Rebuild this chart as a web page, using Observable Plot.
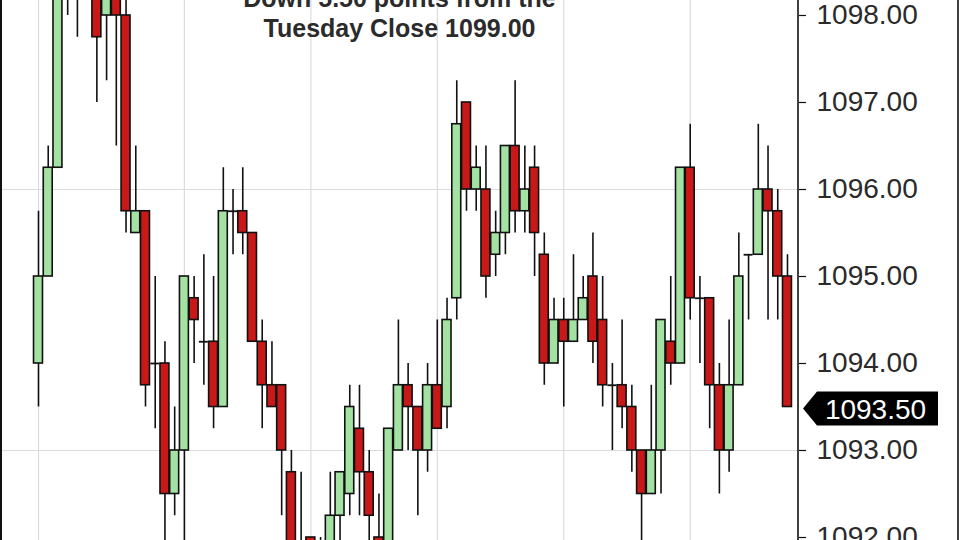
<!DOCTYPE html>
<html>
<head>
<meta charset="utf-8">
<script src="https://cdn.jsdelivr.net/npm/d3@7"></script>
<script src="https://cdn.jsdelivr.net/npm/@observablehq/plot@0.6"></script>
<style>
  html, body { margin: 0; padding: 0; background: #fff; overflow: hidden; }
  #chart svg { display: block; }
</style>
</head>
<body>
<div id="chart"></div>
<script>
// ---- data (ES futures, 2-min bars) ----
const opens  = [1094.00,1095.00,1096.25,1098.50,1098.75,1099.00,1098.75,1098.00,1098.50,1098.00,
                1095.50,1095.75,1094.00,1094.00,1092.50,1093.00,1094.75,1094.25,1094.25,1093.50,
                1095.75,1095.75,1095.50,1094.25,1093.75,1093.75,1092.75,1091.75,1092.00,1091.50,
                1091.75,1092.25,1092.50,1093.25,1092.75,1092.00,1091.75,1093.00,1093.75,1093.50,
                1093.00,1093.75,1093.50,1094.75,1097.00,1096.00,1096.00,1095.25,1095.50,1096.50,
                1095.75,1096.25,1095.25,1094.00,1094.50,1094.25,1094.50,1095.00,1094.50,1093.75,
                1093.75,1093.50,1093.00,1092.50,1093.00,1094.25,1094.00,1096.25,1094.75,1094.75,
                1093.75,1093.00,1093.75,1095.25,1095.25,1096.00,1095.75,1095.00];
const highs  = [1095.75,1096.50,1098.75,1099.00,1099.00,1099.25,1099.00,1098.75,1098.75,1098.25,
                1096.50,1095.75,1095.00,1094.25,1093.50,1095.00,1095.00,1095.25,1095.00,1096.25,
                1096.00,1096.25,1095.50,1094.50,1094.25,1093.75,1093.00,1092.75,1092.00,1092.00,
                1092.75,1092.75,1093.75,1093.75,1093.00,1092.50,1093.25,1094.50,1094.00,1093.50,
                1094.00,1094.50,1094.75,1097.25,1097.00,1096.50,1096.50,1095.75,1096.50,1097.25,
                1096.50,1096.50,1095.50,1094.75,1094.75,1095.25,1095.00,1095.50,1095.00,1094.00,
                1094.50,1093.75,1093.00,1093.75,1094.50,1095.00,1096.25,1096.75,1095.00,1094.75,
                1094.00,1094.50,1095.50,1095.25,1096.75,1096.50,1096.00,1095.25];
const lows   = [1093.50,1095.00,1096.25,1098.00,1097.75,1098.50,1097.00,1097.25,1096.50,1095.50,
                1095.50,1093.50,1093.25,1091.75,1092.25,1091.75,1094.00,1093.75,1093.25,1093.50,
                1095.25,1095.25,1094.25,1093.25,1093.50,1092.25,1091.50,1091.25,1091.50,1091.25,
                1091.50,1091.75,1092.25,1092.25,1091.75,1091.50,1091.50,1093.00,1093.00,1092.25,
                1092.75,1093.25,1093.25,1094.50,1095.75,1095.75,1094.75,1095.00,1095.25,1095.50,
                1095.50,1095.00,1093.75,1094.00,1093.50,1094.25,1094.50,1094.00,1093.50,1093.00,
                1093.25,1092.75,1091.75,1092.50,1092.50,1093.75,1094.00,1094.50,1094.00,1093.25,
                1092.50,1092.75,1093.75,1094.50,1095.25,1094.50,1094.50,1093.50];
const closes = [1095.00,1096.25,1098.50,1098.75,1098.50,1098.75,1097.75,1098.50,1098.00,1095.75,
                1095.75,1093.75,1094.00,1092.50,1093.00,1095.00,1094.50,1094.25,1093.50,1095.75,
                1095.75,1095.50,1094.25,1093.75,1093.50,1093.00,1091.75,1091.50,1091.75,1091.75,
                1092.25,1092.75,1093.50,1092.75,1092.25,1091.75,1093.25,1093.75,1093.50,1093.00,
                1093.75,1093.25,1094.50,1096.75,1096.00,1096.25,1095.00,1095.50,1096.50,1095.75,
                1096.00,1095.50,1094.00,1094.50,1094.25,1094.50,1094.75,1094.25,1093.75,1093.75,
                1093.50,1093.00,1092.50,1093.00,1094.50,1094.00,1096.25,1094.75,1094.75,1093.75,
                1093.00,1093.75,1095.00,1095.25,1096.00,1095.75,1095.00,1093.50];
const priceTicks = [1092, 1093, 1094, 1095, 1096, 1097, 1098];
const gridPrices = [1093, 1096];
const gridBars   = [1, 16, 29, 42, 55, 68];
const titleLine1 = "Down 5.50 points from the";
const titleLine2 = "Tuesday Close 1099.00";
const lastPrice  = closes[closes.length - 1];

// ---- table ----
const bars = opens.map((o, k) => ({
  i: k + 1, open: o, high: highs[k], low: lows[k], close: closes[k],
  dir: closes[k] > o ? "up" : closes[k] < o ? "down" : "flat"
}));
const bodies = bars.filter(d => d.dir !== "flat");
const dojis  = bars.filter(d => d.dir === "flat");

const W = 960, H = 540, MR = 162;
const pxPerBar = 9.727, firstPx = 38;
const xDomain = [1 - firstPx / pxPerBar, 1 + (W - MR - firstPx) / pxPerBar];
const pxPerPt = 87, y1098px = 15;
const yDomain = [1098 - (H - y1098px) / pxPerPt, 1098 + y1098px / pxPerPt];
const half = 0.46;

const chart = Plot.plot({
  width: W, height: H,
  marginLeft: 0, marginRight: MR, marginTop: 0, marginBottom: 0,
  style: { fontFamily: "'Liberation Sans', Arial, sans-serif", color: "#222", background: "#fff" },
  x: { domain: xDomain, axis: null },
  y: { domain: yDomain, axis: null },
  marks: [
    Plot.ruleX(gridBars, { stroke: "#dcdcdc", strokeWidth: 1.2 }),
    Plot.ruleY(gridPrices, { stroke: "#dcdcdc", strokeWidth: 1.2 }),
    Plot.ruleX(bars, { x: "i", y1: "low", y2: "high", stroke: "#111", strokeWidth: 1.6, clip: true }),
    Plot.rect(bodies, {
      x1: d => d.i - half, x2: d => d.i + half, y1: "open", y2: "close",
      fill: d => d.dir === "up" ? "#a3e2a3" : "#c81818",
      stroke: "#111", strokeWidth: 1.6, clip: true
    }),
    Plot.ruleY(dojis, { y: "open", x1: d => d.i - half, x2: d => d.i + half, stroke: "#111", strokeWidth: 1.8, clip: true }),
    Plot.axisY(priceTicks, {
      anchor: "right", tickSize: 7, tickPadding: 11, fontSize: 28,
      tickFormat: d => d.toFixed(2), stroke: "#111", strokeWidth: 1.2, fill: "#2a2a2a"
    }),
    Plot.text([titleLine1], { frameAnchor: "top", lineAnchor: "middle", dy: -2, fontSize: 25, fontWeight: "bold", fill: "#2b2b2b" }),
    Plot.text([titleLine2], { frameAnchor: "top", lineAnchor: "middle", dy: 28, fontSize: 25, fontWeight: "bold", fill: "#2b2b2b" })
  ]
});

document.getElementById("chart").append(chart);

// frame lines and last-price marker
const svg = d3.select(chart.tagName.toLowerCase() === "svg" ? chart : chart.querySelector("svg"));
const axisX = W - MR;
svg.append("line").attr("x1", axisX).attr("x2", axisX).attr("y1", 0).attr("y2", H)
  .attr("stroke", "#111").attr("stroke-width", 1.6);
svg.append("line").attr("x1", 1).attr("x2", 1).attr("y1", 0).attr("y2", H)
  .attr("stroke", "#111").attr("stroke-width", 2);
svg.append("line").attr("x1", W - 2).attr("x2", W - 2).attr("y1", 0).attr("y2", H)
  .attr("stroke", "#111").attr("stroke-width", 1.6);

const yS = chart.scale("y");
const y0 = yS.apply(lastPrice) + 2;
const tip = axisX + 5, bx0 = axisX + 19, bx1 = 938, bh = 17;
svg.append("path")
  .attr("d", `M${tip},${y0} L${bx0},${y0 - bh} L${bx1},${y0 - bh} L${bx1},${y0 + bh} L${bx0},${y0 + bh} Z`)
  .attr("fill", "#000");
svg.append("text")
  .attr("x", (bx0 + bx1) / 2 - 2).attr("y", y0).attr("dy", "0.36em")
  .attr("text-anchor", "middle").attr("fill", "#fff")
  .attr("font-size", 28).attr("font-family", "'Liberation Sans', Arial, sans-serif")
  .text(lastPrice.toFixed(2));
</script>
</body>
</html>
